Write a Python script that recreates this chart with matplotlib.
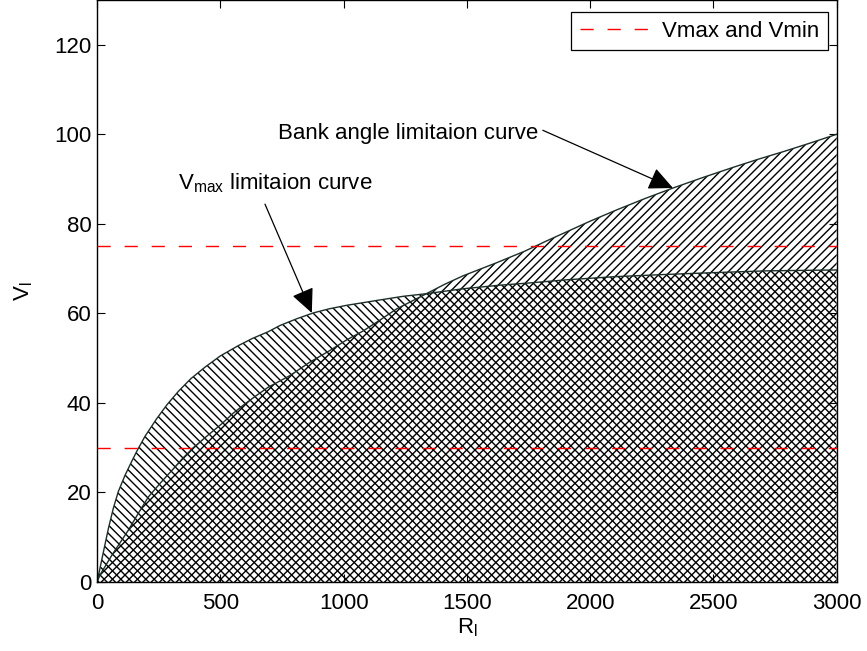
import matplotlib
matplotlib.use("Agg")
import matplotlib.pyplot as plt

plt.rcParams['font.family'] = ['Liberation Sans', 'DejaVu Sans']
plt.rcParams['mathtext.fontset'] = 'custom'
plt.rcParams['mathtext.rm'] = 'Liberation Sans'
plt.rcParams['mathtext.it'] = 'Liberation Sans'
plt.rcParams['hatch.linewidth'] = 1.0
plt.rcParams['hatch.color'] = 'black'

# Vmax limitation curve
r_vmax = [0, 19, 46, 66, 86, 113, 141, 161, 195, 242, 285, 330, 380, 438, 500,
          573, 630, 694, 742, 810, 877, 940, 1012, 1080, 1147, 1240, 1336, 1485,
          1634, 1755, 1904, 2100, 2309, 2500, 2715, 3000]
v_vmax = [0, 5.0, 12.0, 16.5, 20.2, 23.8, 27.0, 29.2, 32.6, 36.5, 39.7, 42.6,
          45.4, 48.0, 50.5, 52.8, 54.4, 55.9, 57.3, 58.8, 60.1, 61.0, 61.8,
          62.4, 63.0, 63.8, 64.4, 65.5, 66.3, 66.8, 67.5, 68.2, 68.7, 69.1,
          69.5, 69.7]

# Bank angle limitation curve
r_bank = [0, 12, 60, 127, 170, 208, 255, 303, 345, 390, 450, 505, 550, 600,
          650, 694, 782, 860, 944, 1010, 1080, 1150, 1215, 1336, 1410, 1485,
          1550, 1620, 1735, 1820, 1904, 2000, 2107, 2220, 2336, 2460, 2579,
          2680, 2782, 2890, 3000]
v_bank = [0, 1.6, 6.0, 11.6, 15.6, 19.0, 22.0, 24.9, 27.5, 30.0, 32.8, 35.3,
          37.6, 39.8, 41.8, 43.5, 46.1, 49.0, 51.7, 54.0, 56.1, 58.6, 61.0,
          64.4, 66.5, 68.4, 69.8, 71.3, 73.9, 76.1, 78.2, 80.6, 83.1, 85.6,
          88.0, 90.4, 92.6, 94.4, 96.1, 98.0, 100.0]

v_limits = [75, 30]
x_range = [0, 3000]
xticks = [0, 500, 1000, 1500, 2000, 2500, 3000]
yticks = [0, 20, 40, 60, 80, 100, 120]

fig = plt.figure(figsize=(8.67, 6.51), dpi=100)
ax = fig.add_axes([0.112, 0.106, 0.853, 0.894])

edge = '#1c2e2a'
ax.fill_between(r_vmax, 0, v_vmax, facecolor='none', edgecolor='black',
                hatch='\\\\\\\\', linewidth=0)
ax.fill_between(r_bank, 0, v_bank, facecolor='none', edgecolor='black',
                hatch='////', linewidth=0)
ax.plot(r_vmax, v_vmax, color=edge, lw=1.0)
ax.plot(r_bank, v_bank, color=edge, lw=1.0)

for i, v in enumerate(v_limits):
    ax.plot(x_range, [v, v], color='red', ls=(0, (9.5, 10)), lw=1.0,
            label='Vmax and Vmin' if i == 0 else None, zorder=5)

fs = 16
ax.text(734, 100.2, 'Bank angle limitaion curve', fontsize=fs,
        ha='left', va='center')
ax.annotate('', xy=(2336, 88.0), xytext=(1808, 100.9),
            arrowprops=dict(arrowstyle='-|>,head_length=0.75,head_width=0.35',
                            color='black', lw=0.9, mutation_scale=20,
                            shrinkA=0, shrinkB=0))
ax.text(328, 89.0, r'V$_{\mathrm{max}}$ limitaion curve', fontsize=fs,
        ha='left', va='center')
ax.annotate('', xy=(871, 60.1), xytext=(681, 84.4),
            arrowprops=dict(arrowstyle='-|>,head_length=0.75,head_width=0.35',
                            color='black', lw=0.9, mutation_scale=20,
                            shrinkA=0, shrinkB=0))

ax.set_xlim(0, 3000)
ax.set_ylim(0, 130)
ax.set_xticks(xticks)
ax.set_yticks(yticks)
ax.tick_params(direction='in', length=6, width=0.8, top=True, right=True,
               labelsize=fs)
ax.tick_params(axis='x', pad=8)
ax.tick_params(axis='y', pad=4)
for s in ax.spines.values():
    s.set_linewidth(1.0)

ax.set_xlabel(r'R$_{\mathrm{l}}$', fontsize=fs, labelpad=2)
ax.set_ylabel(r'V$_{\mathrm{l}}$', fontsize=fs, labelpad=14)

leg = ax.legend(loc='upper right', bbox_to_anchor=(0.988, 0.979),
                fontsize=fs, handlelength=3.3,
                fancybox=False, framealpha=1, edgecolor='black',
                borderaxespad=0, borderpad=0.38, handletextpad=0.4)
leg.get_frame().set_linewidth(0.9)

fig.savefig('out.png', dpi=100)
